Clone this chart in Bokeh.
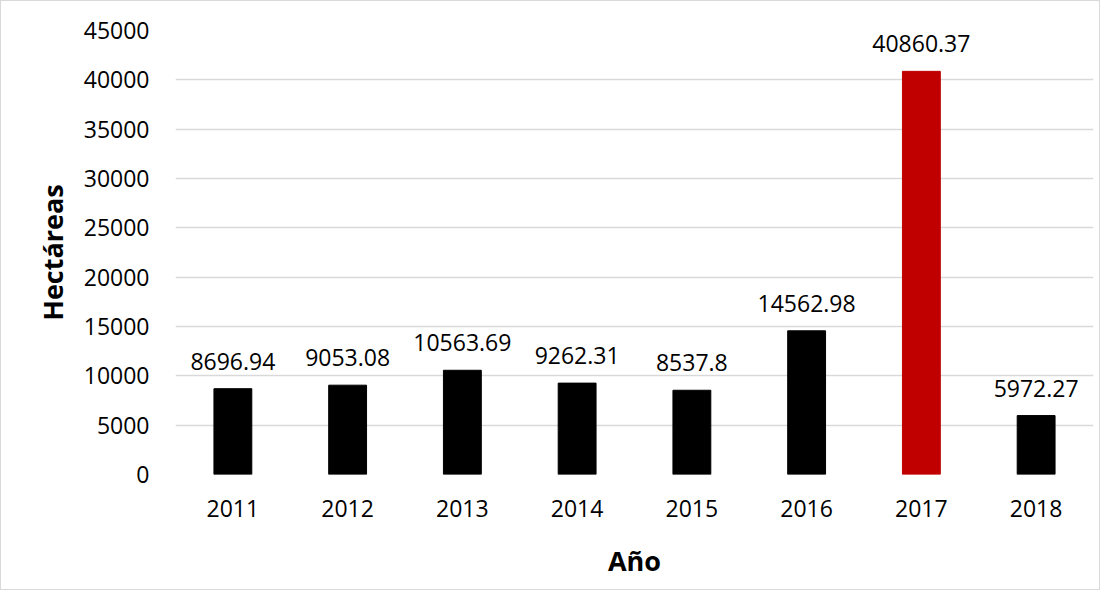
from bokeh.plotting import figure
from bokeh.models import ColumnDataSource, FixedTicker, LabelSet
from bokeh.embed import file_html
from bokeh.resources import INLINE
from bokeh.core.properties import value

years = ["2011", "2012", "2013", "2014", "2015", "2016", "2017", "2018"]
hectareas = [8696.94, 9053.08, 10563.69, 9262.31, 8537.8, 14562.98, 40860.37, 5972.27]
labels = ["8696.94", "9053.08", "10563.69", "9262.31", "8537.8", "14562.98", "40860.37", "5972.27"]
colors = ["#000000"] * 6 + ["#C00000", "#000000"]
y_ticks = [0, 5000, 10000, 15000, 20000, 25000, 30000, 35000, 40000, 45000]

FONT = "Open Sans"

src = ColumnDataSource(dict(x=years, y=hectareas, lab=labels, c=colors))

p = figure(x_range=years, y_range=(0, 45000),
           frame_width=918, frame_height=444,
           min_border_left=174, min_border_right=6,
           min_border_top=29, min_border_bottom=115,
           output_backend="svg", toolbar_location=None)
p.styles = {"border": "1px solid #d9d9d9"}
p.x_range.range_padding = 0
p.outline_line_color = None
p.background_fill_color = "white"
p.border_fill_color = "white"

p.vbar(x="x", top="y", width=0.33, fill_color="c", line_color="c", source=src)

p.add_layout(LabelSet(x="x", y="y", text="lab", source=src, text_align="center",
                      text_baseline="alphabetic", y_offset=19,
                      text_font=value(FONT), text_font_size="23px", text_color="#000000"))

p.xgrid.grid_line_color = None
p.ygrid.grid_line_color = "#d9d9d9"
p.ygrid.grid_line_width = 1.3
p.yaxis.ticker = FixedTicker(ticks=y_ticks)

for ax in (p.xaxis[0], p.yaxis[0]):
    ax.axis_line_color = None
    ax.major_tick_line_color = None
    ax.minor_tick_line_color = None
    ax.major_label_text_font = FONT
    ax.major_label_text_font_size = "23px"
    ax.major_label_text_color = "#000000"
    ax.axis_label_text_font = FONT
    ax.axis_label_text_font_size = "27px"
    ax.axis_label_text_font_style = "bold"
    ax.axis_label_text_color = "#000000"

p.yaxis.axis_label = "Hectáreas"
p.xaxis.axis_label = "Año"
p.yaxis.major_label_standoff = 20
p.xaxis.major_label_standoff = 19
p.yaxis.axis_label_standoff = 10
p.xaxis.axis_label_standoff = 22

open("out.html", "w").write(file_html(p, INLINE))
